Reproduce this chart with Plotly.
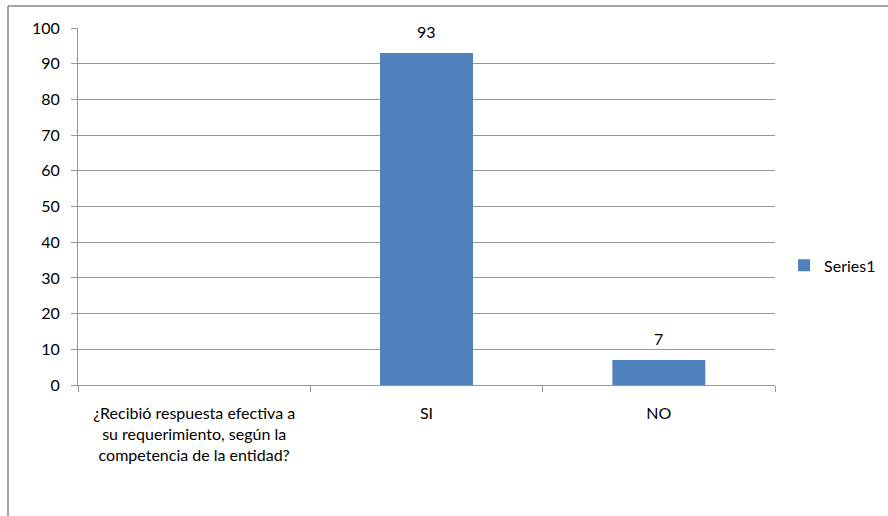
import plotly.graph_objects as go

categories = ["¿Recibió respuesta efectiva a<br>su requerimiento, según la<br>competencia de la entidad?", "SI", "NO"]
values = [None, 93, 7]
labels = ["", "93", "7"]
y_ticks = [0, 10, 20, 30, 40, 50, 60, 70, 80, 90, 100]

FONT = "Lato, Open Sans, sans-serif"
GRID = "#979797"
FS = 16

fig = go.Figure()
fig.add_trace(go.Bar(
    x=categories, y=values, name="Series1",
    marker=dict(color="#4f81bd", line=dict(width=0)),
    width=0.4,
))

for c, v, t in zip(categories, values, labels):
    if v is not None:
        fig.add_annotation(x=c, y=v, text=t, showarrow=False, yanchor="bottom",
                           yshift=10, font=dict(family=FONT, size=FS, color="#000000"))

fig.update_layout(
    width=888, height=516,
    margin=dict(l=78, r=113, t=28, b=131, autoexpand=False),
    paper_bgcolor="white", plot_bgcolor="white",
    font=dict(family=FONT, size=FS, color="#000000"),
    showlegend=True,
    legend=dict(x=1.013, y=0.335, xanchor="left", yanchor="middle",
                font=dict(family=FONT, size=FS), itemwidth=30),
    xaxis=dict(
        type="category", tickson="boundaries", ticks="outside", ticklen=6,
        tickcolor=GRID, showline=True, linecolor=GRID, linewidth=1,
        showgrid=False, tickfont=dict(family=FONT, size=FS),
        ticklabelstandoff=14,
    ),
    yaxis=dict(
        range=[0, 100], tickvals=y_ticks, ticks="outside", ticklen=6,
        tickcolor=GRID, showline=True, linecolor=GRID, linewidth=1,
        showgrid=True, gridcolor=GRID, gridwidth=1, zeroline=False,
        tickfont=dict(family=FONT, size=FS), ticklabelstandoff=8,
    ),
    shapes=[
        dict(type="line", xref="paper", yref="paper",
             x0=-70/697, x1=1.3, y0=1 + 22/357, y1=1 + 22/357,
             line=dict(color="#888888", width=1.5)),
        dict(type="line", xref="paper", yref="paper",
             x0=-70/697, x1=-70/697, y0=-0.5, y1=1 + 22/357,
             line=dict(color="#888888", width=1.5)),
    ],
)

fig.write_html("out.html")
